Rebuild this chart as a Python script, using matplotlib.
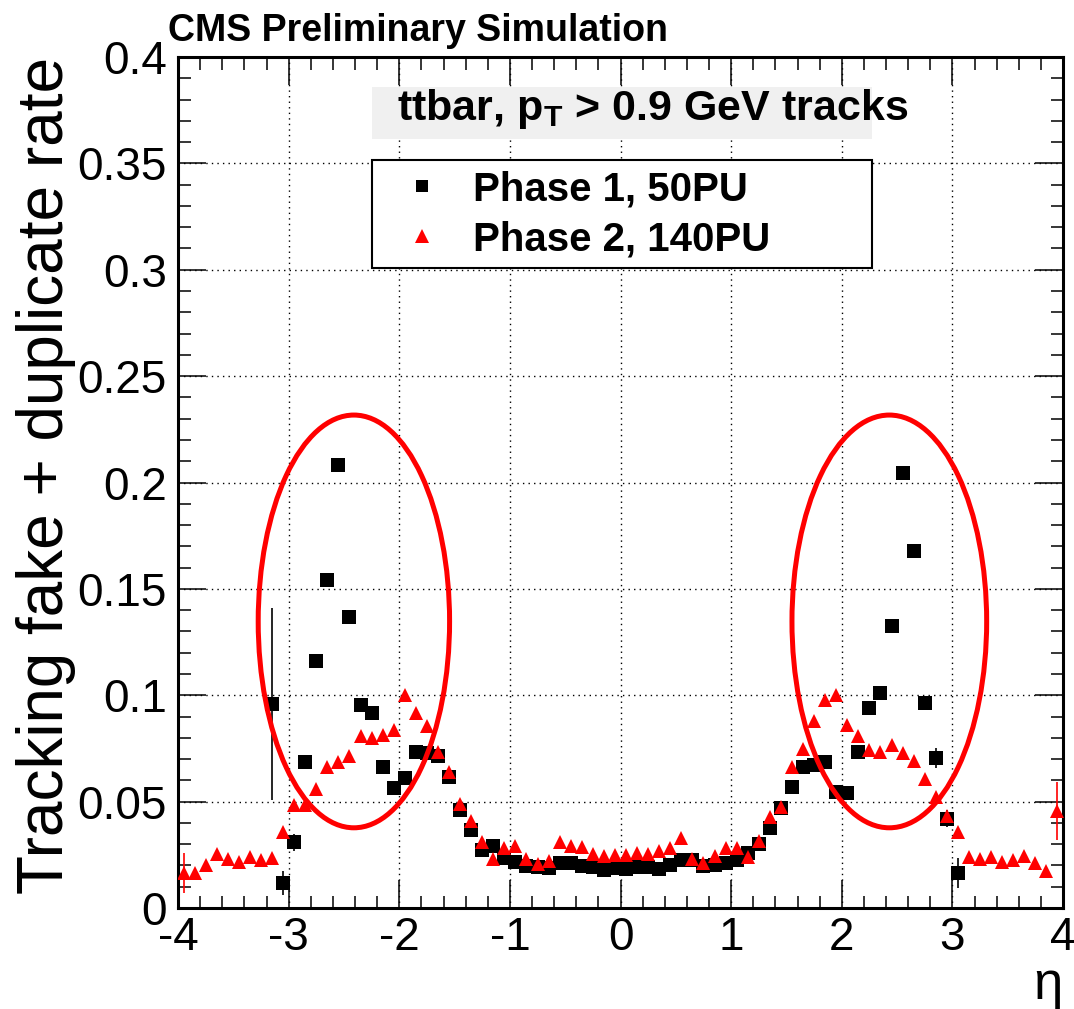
import numpy as np
import matplotlib
matplotlib.use("Agg")
import matplotlib.pyplot as plt
from matplotlib.ticker import MultipleLocator, FuncFormatter
from matplotlib.patches import Ellipse, Rectangle
from matplotlib.lines import Line2D

plt.rcParams['font.family'] = ['Liberation Sans', 'DejaVu Sans']
plt.rcParams['mathtext.fontset'] = 'custom'
plt.rcParams['mathtext.rm'] = 'Liberation Sans'
plt.rcParams['mathtext.bf'] = 'Liberation Sans:bold'

# ---------------- data ----------------
eta_p1 = [-3.15, -3.05, -2.95, -2.85, -2.75, -2.65, -2.55, -2.45, -2.35, -2.25,
          -2.15, -2.05, -1.95, -1.85, -1.75, -1.65, -1.55, -1.45, -1.35, -1.25,
          -1.15, -1.05, -0.95, -0.85, -0.75, -0.65, -0.55, -0.45, -0.35, -0.25,
          -0.15, -0.05, 0.05, 0.15, 0.25, 0.35, 0.45, 0.55, 0.65, 0.75,
          0.85, 0.95, 1.05, 1.15, 1.25, 1.35, 1.45, 1.55, 1.65, 1.75,
          1.85, 1.95, 2.05, 2.15, 2.25, 2.35, 2.45, 2.55, 2.65, 2.75,
          2.85, 2.95, 3.05]
rate_p1 = [0.0959, 0.0118, 0.031, 0.0686, 0.116, 0.154, 0.208, 0.137, 0.0954, 0.0917,
           0.0663, 0.0564, 0.061, 0.0733, 0.0729, 0.0715, 0.0616, 0.046, 0.0367, 0.0272,
           0.029, 0.0235, 0.0216, 0.0197, 0.0193, 0.0188, 0.021, 0.021, 0.0197, 0.0193,
           0.018, 0.0188, 0.0183, 0.0193, 0.0193, 0.0183, 0.020, 0.0226, 0.0226, 0.0197,
           0.020, 0.021, 0.0226, 0.026, 0.030, 0.0376, 0.047, 0.057, 0.0663, 0.067,
           0.0686, 0.0545, 0.054, 0.0733, 0.094, 0.101, 0.1325, 0.2045, 0.168, 0.0964,
           0.0705, 0.042, 0.0165]
err_p1 = [0.045, 0.0055, 0.004, 0.003, 0.003, 0.002, 0.002, 0.002, 0.002, 0.002,
          0.002, 0.002, 0.002, 0.001, 0.001, 0.001, 0.001, 0.001, 0.001, 0.001,
          0.001, 0.001, 0.001, 0.001, 0.001, 0.001, 0.001, 0.001, 0.001, 0.001,
          0.001, 0.001, 0.001, 0.001, 0.001, 0.001, 0.001, 0.001, 0.001, 0.001,
          0.001, 0.001, 0.001, 0.001, 0.001, 0.001, 0.001, 0.001, 0.001, 0.001,
          0.001, 0.001, 0.001, 0.002, 0.002, 0.002, 0.002, 0.002, 0.002, 0.003,
          0.0047, 0.004, 0.007]

eta_p2 = [-3.95, -3.85, -3.75, -3.65, -3.55, -3.45, -3.35, -3.25, -3.15, -3.05,
          -2.95, -2.85, -2.75, -2.65, -2.55, -2.45, -2.35, -2.25, -2.15, -2.05,
          -1.95, -1.85, -1.75, -1.65, -1.55, -1.45, -1.35, -1.25, -1.15, -1.05,
          -0.95, -0.85, -0.75, -0.65, -0.55, -0.45, -0.35, -0.25, -0.15, -0.05,
          0.05, 0.15, 0.25, 0.35, 0.45, 0.55, 0.65, 0.75, 0.85, 0.95,
          1.05, 1.15, 1.25, 1.35, 1.45, 1.55, 1.65, 1.75, 1.85, 1.95,
          2.05, 2.15, 2.25, 2.35, 2.45, 2.55, 2.65, 2.75, 2.85, 2.95,
          3.05, 3.15, 3.25, 3.35, 3.45, 3.55, 3.65, 3.75, 3.85, 3.95]
rate_p2 = [0.0165, 0.0165, 0.020, 0.0254, 0.023, 0.0217, 0.024, 0.0226, 0.0235, 0.0357,
           0.0484, 0.0484, 0.056, 0.0663, 0.0686, 0.0714, 0.081, 0.080, 0.0815, 0.0838,
           0.100, 0.0917, 0.0857, 0.0735, 0.064, 0.049, 0.041, 0.031, 0.023, 0.028,
           0.029, 0.023, 0.0207, 0.022, 0.031, 0.029, 0.0287, 0.0254, 0.0244, 0.025,
           0.025, 0.0258, 0.0254, 0.0268, 0.028, 0.033, 0.023, 0.021, 0.0244, 0.028,
           0.028, 0.024, 0.0315, 0.0428, 0.0475, 0.0663, 0.0747, 0.088, 0.0978, 0.100,
           0.086, 0.081, 0.0743, 0.0733, 0.0766, 0.0729, 0.069, 0.0606, 0.052, 0.0432,
           0.0357, 0.024, 0.023, 0.024, 0.0216, 0.0226, 0.0244, 0.021, 0.0174, 0.0456]
err_p2 = [0.0095, 0.002, 0.002, 0.002, 0.002, 0.002, 0.002, 0.002, 0.002, 0.002,
          0.002, 0.002, 0.002, 0.002, 0.002, 0.001, 0.001, 0.001, 0.001, 0.001,
          0.001, 0.001, 0.001, 0.001, 0.001, 0.001, 0.001, 0.001, 0.001, 0.001,
          0.001, 0.001, 0.001, 0.001, 0.001, 0.001, 0.001, 0.001, 0.001, 0.001,
          0.001, 0.001, 0.001, 0.001, 0.001, 0.001, 0.001, 0.001, 0.001, 0.001,
          0.001, 0.001, 0.001, 0.001, 0.001, 0.001, 0.001, 0.001, 0.001, 0.001,
          0.001, 0.001, 0.001, 0.001, 0.001, 0.001, 0.001, 0.001, 0.001, 0.001,
          0.002, 0.002, 0.002, 0.002, 0.002, 0.002, 0.002, 0.002, 0.002, 0.0135]

label_p1 = "Phase 1, 50PU"
label_p2 = "Phase 2, 140PU"
ylabel = "Tracking fake + duplicate rate"
xlabel = "η"
cms_text = "CMS Preliminary Simulation"
sel_text = r"ttbar, $\mathbf{p}_{\mathbf{T}}$ > 0.9 GeV tracks"

# highlight ellipses (center eta, center rate, width, height)
ellipse_left = (-2.41, 0.1347, 1.73, 0.194)
ellipse_right = (2.43, 0.1347, 1.76, 0.194)

# ---------------- figure ----------------
W, H = 1074, 1009
fig = plt.figure(figsize=(W / 100, H / 100), dpi=100)
ax = fig.add_axes([178 / W, 101 / H, (1063 - 178) / W, (908 - 57) / H])

ax.errorbar(eta_p1, rate_p1, yerr=err_p1, fmt='s', color='black', ms=9.4,
            mew=0, elinewidth=1.2, capsize=0, zorder=3)
ax.errorbar(eta_p2, rate_p2, yerr=err_p2, fmt='^', color='#ff0000', ms=10.5,
            mew=0, elinewidth=1.2, capsize=0, zorder=4)

for (cx, cy, w, h) in (ellipse_left, ellipse_right):
    ax.add_patch(Ellipse((cx, cy), w, h, fill=False, edgecolor='#ff0000',
                         lw=3.6, zorder=6))

ax.set_xlim(-4, 4)
ax.set_ylim(0, 0.4)
ax.xaxis.set_major_locator(MultipleLocator(1))
ax.xaxis.set_minor_locator(MultipleLocator(0.2))
ax.yaxis.set_major_locator(MultipleLocator(0.05))
ax.yaxis.set_minor_locator(MultipleLocator(0.01))
ax.yaxis.set_major_formatter(FuncFormatter(lambda v, p: f"{v:g}"))
ax.xaxis.set_major_formatter(FuncFormatter(lambda v, p: f"{v:g}"))

ax.tick_params(which='both', direction='in', top=True, right=True,
               labelsize=33, width=1.1, colors='black')
ax.tick_params(which='major', length=20)
ax.tick_params(which='minor', length=9)
ax.tick_params(axis='x', which='major', pad=6)
ax.tick_params(axis='y', which='major', pad=8)
for s in ax.spines.values():
    s.set_linewidth(2.2)

ax.grid(True, which='major', color='black', linestyle=(0, (1, 3)), linewidth=1.0)
ax.set_axisbelow(True)

ax.set_ylabel(ylabel, fontsize=46, loc='top', labelpad=1)
ax.set_xlabel(xlabel, fontsize=38, loc='right', labelpad=0)

# selection text box
ax.add_patch(Rectangle((0.219, 0.9036), 0.565, 0.0611, transform=ax.transAxes,
                       facecolor='#f0f0f0', edgecolor='none', zorder=5))
ax.text(0.2475, 0.926, sel_text, transform=ax.transAxes, fontsize=31,
        fontweight='bold', ha='left', va='baseline', zorder=7)

handles = [Line2D([], [], marker='s', ls='none', color='black', ms=9, mew=0),
           Line2D([], [], marker='^', ls='none', color='#ff0000', ms=10, mew=0)]
leg = ax.legend(handles, [label_p1, label_p2], loc='upper left',
                bbox_to_anchor=(0.219, 0.7556, 0.565, 0.1234),
                mode='expand', prop={'weight': 'bold', 'size': 29},
                frameon=True, fancybox=False, framealpha=1, edgecolor='black',
                handlelength=2.0, handletextpad=0.25, borderpad=0.25,
                labelspacing=0.3, borderaxespad=0)
leg.get_frame().set_linewidth(1.5)
leg.set_zorder(7)

fig.text(168 / W, (H - 41) / H, cms_text, fontsize=27, fontweight='bold',
         ha='left', va='baseline')

fig.savefig("out.png", dpi=100)
